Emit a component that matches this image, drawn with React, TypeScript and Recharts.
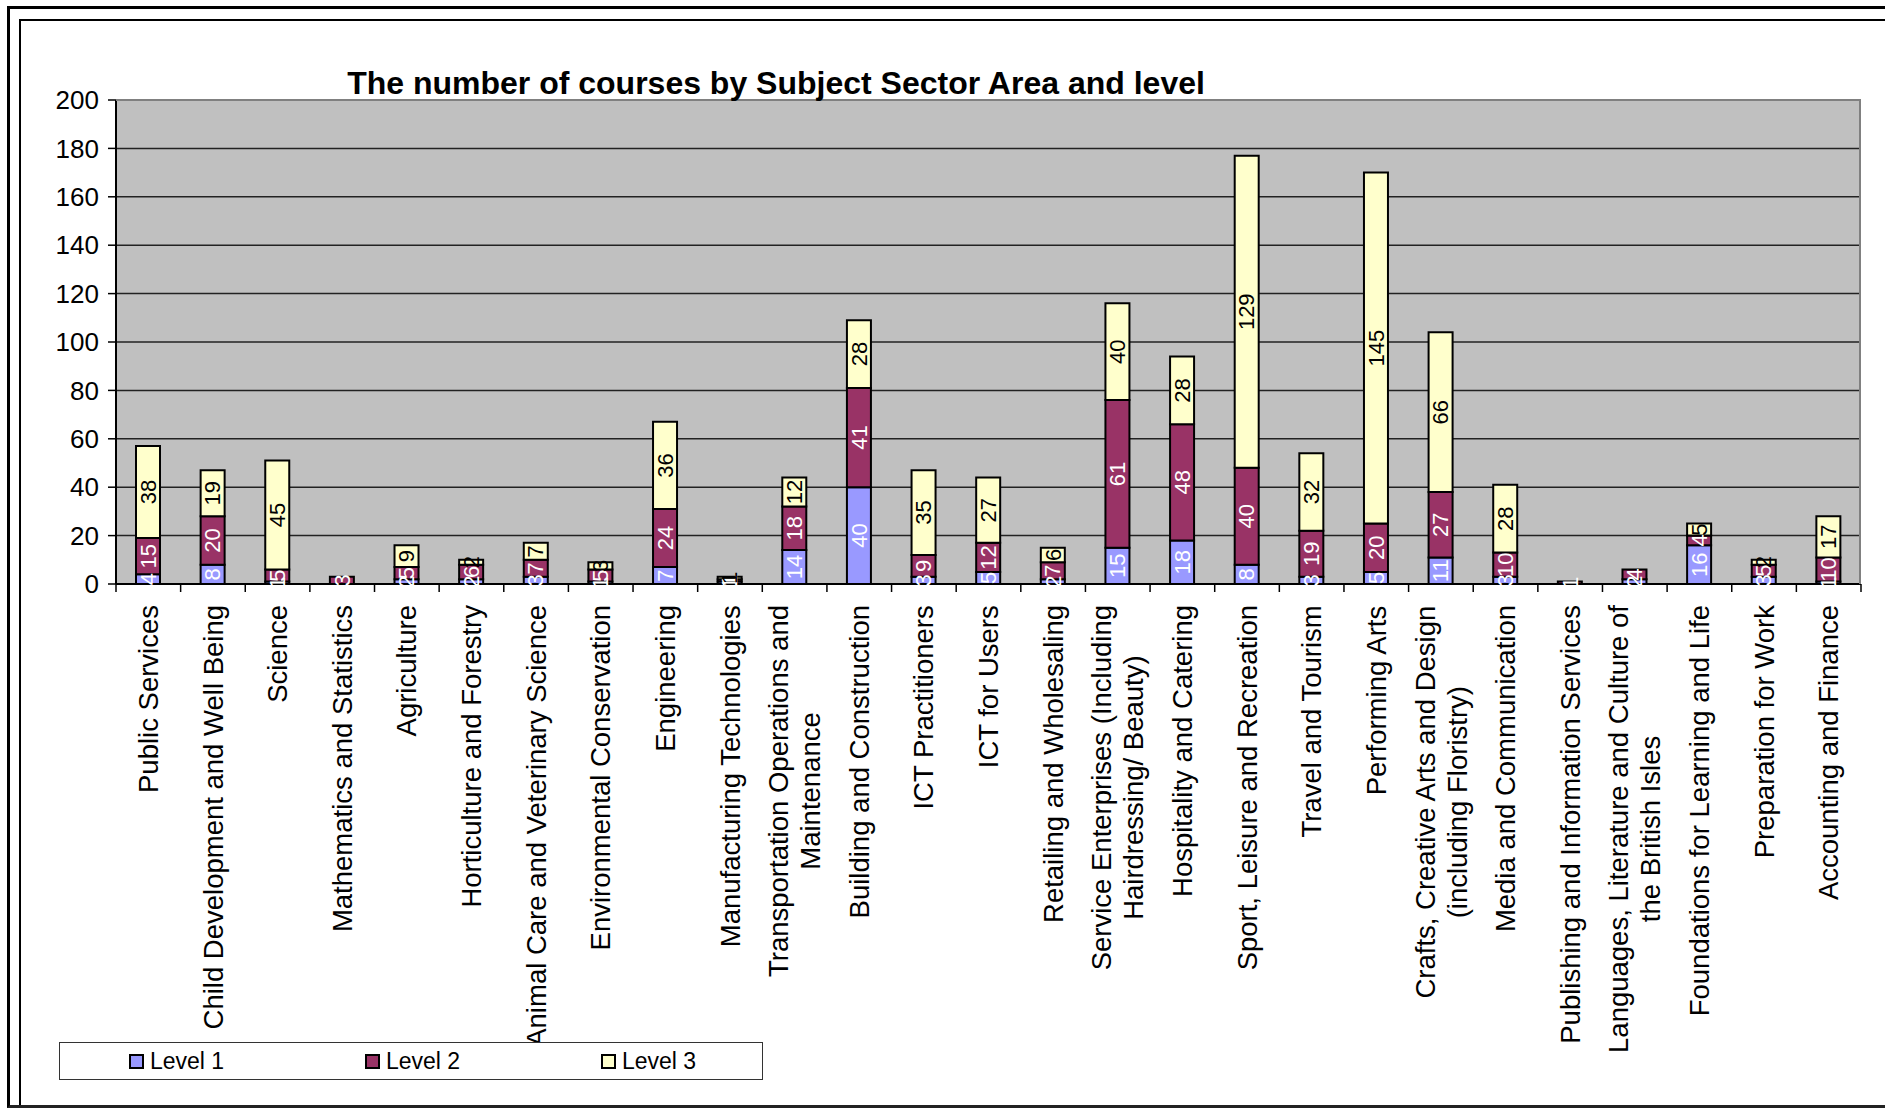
import React from "react";
import {
  BarChart,
  Bar,
  XAxis,
  YAxis,
  CartesianGrid,
  LabelList,
} from "recharts";

const categories = [
  "Public Services",
  "Child Development and Well Being",
  "Science",
  "Mathematics and Statistics",
  "Agriculture",
  "Horticulture and Forestry",
  "Animal Care and Veterinary Science",
  "Environmental Conservation",
  "Engineering",
  "Manufacturing Technologies",
  "Transportation Operations and Maintenance",
  "Building and Construction",
  "ICT Practitioners",
  "ICT for Users",
  "Retailing and Wholesaling",
  "Service Enterprises (Including Hairdressing/ Beauty)",
  "Hospitality and Catering",
  "Sport, Leisure and Recreation",
  "Travel and Tourism",
  "Performing Arts",
  "Crafts, Creative Arts and Design (including Floristry)",
  "Media and Communication",
  "Publishing and Information Services",
  "Languages, Literature and Culture of the British Isles",
  "Foundations for Learning and Life",
  "Preparation for Work",
  "Accounting and Finance",
];

const level1 = [4, 8, 1, 0, 2, 2, 3, 1, 7, 1, 14, 40, 3, 5, 2, 15, 18, 8, 3, 5, 11, 3, 0, 2, 16, 3, 1];
const level2 = [15, 20, 5, 3, 5, 6, 7, 5, 24, 1, 18, 41, 9, 12, 7, 61, 48, 40, 19, 20, 27, 10, 1, 4, 4, 5, 10];
const level3 = [38, 19, 45, 0, 9, 2, 7, 3, 36, 1, 12, 28, 35, 27, 6, 40, 28, 129, 32, 145, 66, 28, 0, 0, 5, 2, 17];

const yTicks = [0, 20, 40, 60, 80, 100, 120, 140, 160, 180, 200];

const series = [
  { key: "l1", name: "Level 1", fill: "#9999FF", text: "#FFFFFF" },
  { key: "l2", name: "Level 2", fill: "#993366", text: "#FFFFFF" },
  { key: "l3", name: "Level 3", fill: "#FFFFCC", text: "#000000" },
];

const data = categories.map((name, i) => ({
  name,
  l1: level1[i],
  l2: level2[i],
  l3: level3[i],
}));

const FONT = '"Liberation Sans", Arial, sans-serif';
const W = 1885;
const H = 1112;
const margin = { top: 100, right: 24, left: 0, bottom: 0 };
const Y_AXIS_W = 116;
const X_AXIS_H = 528;
const plotWidth = W - margin.left - margin.right - Y_AXIS_W;
const band = plotWidth / categories.length;

const CAT_FONT = 27.5;
const LINE_H = 32;
const MAX_CHARS = 36;

let measureCtx: CanvasRenderingContext2D | null = null;
function textWidth(s: string, size: number) {
  if (!measureCtx) {
    measureCtx = document.createElement("canvas").getContext("2d");
  }
  if (!measureCtx) return s.length * size * 0.5;
  measureCtx.font = `${size}px ${FONT}`;
  return measureCtx.measureText(s).width;
}

function wrapLabel(label: string): string[] {
  const words = label.split(" ");
  const lines: string[] = [];
  let cur = "";
  for (const w of words) {
    const next = cur ? cur + " " + w : w;
    if (next.length > MAX_CHARS && cur) {
      lines.push(cur);
      cur = w;
    } else {
      cur = next;
    }
  }
  if (cur) lines.push(cur);
  return lines;
}

function CategoryTick(props: any) {
  const { x, y, payload, index } = props;
  const lines = wrapLabel(String(payload.value));
  const maxW = Math.max(...lines.map((l) => textWidth(l, CAT_FONT)));
  const cy = y + 21 + maxW / 2;
  const n = lines.length;
  return (
    <g>
      <line x1={x - band / 2} x2={x - band / 2} y1={y} y2={y + 8} stroke="#000" strokeWidth={1.5} />
      {index === categories.length - 1 && (
        <line x1={x + band / 2} x2={x + band / 2} y1={y} y2={y + 8} stroke="#000" strokeWidth={1.5} />
      )}
      <text
        x={x}
        y={cy}
        transform={`rotate(-90 ${x} ${cy})`}
        textAnchor="middle"
        fontFamily={FONT}
        fontSize={CAT_FONT}
        fill="#000"
      >
        {lines.map((l, i) => (
          <tspan key={i} x={x} y={cy + (i - (n - 1) / 2) * LINE_H} dy="0.35em">
            {l}
          </tspan>
        ))}
      </text>
    </g>
  );
}

function makeValueLabel(color: string) {
  return function ValueLabel(props: any) {
    const { x, y, width, height, value } = props;
    if (!value) return null;
    const cx = x + width / 2;
    const cy = y + height / 2;
    return (
      <text
        x={cx}
        y={cy}
        dy="0.35em"
        transform={`rotate(-90 ${cx} ${cy})`}
        textAnchor="middle"
        fontFamily={FONT}
        fontSize={22}
        fill={color}
      >
        {value}
      </text>
    );
  };
}

function LegendBox() {
  return (
    <div
      style={{
        position: "absolute",
        left: 59,
        top: 1042,
        width: 704,
        height: 38,
        border: "1px solid #333",
        background: "#fff",
        display: "flex",
        alignItems: "center",
        paddingLeft: 69,
        boxSizing: "border-box",
        fontFamily: FONT,
        fontSize: 23,
        overflow: "hidden",
      }}
    >
      {series.map((s) => (
        <div
          key={s.key}
          style={{ width: 236, flexShrink: 0, display: "flex", alignItems: "center" }}
        >
          <span
            style={{
              display: "inline-block",
              width: 11,
              height: 11,
              border: "2px solid #000",
              background: s.fill,
              marginRight: 6,
            }}
          />
          <span>{s.name}</span>
        </div>
      ))}
    </div>
  );
}

export default function App() {
  return (
    <div style={{ position: "absolute", left: 0, top: 0, width: W, height: H, background: "#fff", overflow: "hidden" }}>
      {/* outer page frame */}
      <div
        style={{
          position: "absolute",
          left: 7,
          top: 6,
          width: W,
          height: 1096,
          borderLeft: "3px solid #000",
          borderTop: "3px solid #000",
          borderBottom: "3px solid #222",
        }}
      />
      {/* chart frame */}
      <div
        style={{
          position: "absolute",
          left: 19,
          top: 19,
          width: W,
          height: 1084,
          borderLeft: "2px solid #000",
          borderTop: "2px solid #000",
        }}
      />
      <div style={{ position: "absolute", left: 0, top: 0 }}>
        <BarChart width={W} height={H} data={data} margin={margin}>
          <CartesianGrid
            vertical={false}
            fill="#C0C0C0"
            fillOpacity={1}
            stroke="#222"
            strokeWidth={1.5}
          />
          <YAxis
            width={Y_AXIS_W}
            domain={[0, 200]}
            ticks={yTicks}
            interval={0}
            axisLine={{ stroke: "#000", strokeWidth: 2 }}
            tickLine={{ stroke: "#000", strokeWidth: 1.5 }}
            tickSize={8}
            tickMargin={9}
            tick={{ fontFamily: FONT, fontSize: 26, fill: "#000" }}
          />
          <XAxis
            dataKey="name"
            height={X_AXIS_H}
            interval={0}
            axisLine={{ stroke: "#000", strokeWidth: 2 }}
            tickLine={false}
            tickSize={0}
            tickMargin={0}
            tick={<CategoryTick />}
          />
          {series.map((s) => (
            <Bar
              key={s.key}
              dataKey={s.key}
              name={s.name}
              stackId="a"
              fill={s.fill}
              stroke="#000"
              strokeWidth={2}
              barSize={24}
              isAnimationActive={false}
            >
              <LabelList dataKey={s.key} content={makeValueLabel(s.text)} />
            </Bar>
          ))}
        </BarChart>
      </div>
      {/* plot area right edge */}
      <div
        style={{
          position: "absolute",
          left: Y_AXIS_W,
          top: margin.top - 1,
          width: plotWidth,
          height: 485,
          borderRight: "2px solid #808080",
          borderTop: "2px solid #808080",
          boxSizing: "border-box",
          pointerEvents: "none",
        }}
      />
      <div
        style={{
          position: "absolute",
          left: 0,
          width: 1552,
          top: 65,
          textAlign: "center",
          fontFamily: FONT,
          fontWeight: "bold",
          fontSize: 32,
          color: "#000",
          whiteSpace: "nowrap",
        }}
      >
        The number of courses by Subject Sector Area and level
      </div>
      <LegendBox />
    </div>
  );
}
